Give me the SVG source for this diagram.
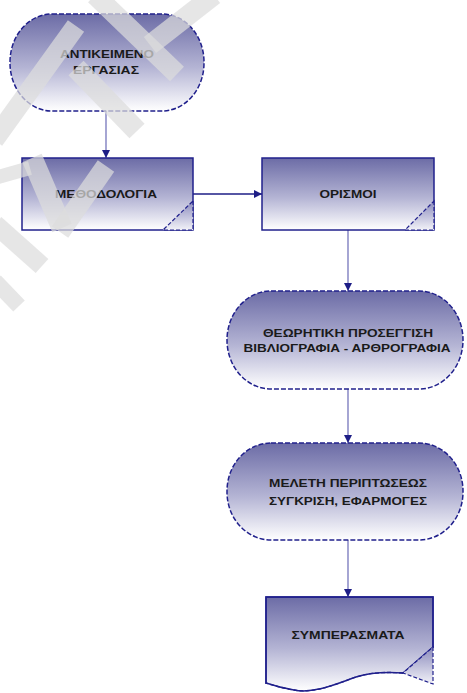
<svg xmlns="http://www.w3.org/2000/svg" width="467" height="693" viewBox="0 0 467 693">
  <defs>
    <linearGradient id="fillGrad" x1="0" y1="0" x2="0" y2="1">
      <stop offset="0" stop-color="#6c6ca6"/>
      <stop offset="0.55" stop-color="#b4b4d4"/>
      <stop offset="1" stop-color="#ffffff"/>
    </linearGradient>
    <linearGradient id="foldGrad" x1="0" y1="0" x2="0" y2="1">
      <stop offset="0" stop-color="#8a8abc"/>
      <stop offset="1" stop-color="#f2f2f8"/>
    </linearGradient>
    <marker id="arrow" viewBox="0 0 8 8" refX="8" refY="4" markerWidth="8" markerHeight="8" markerUnits="userSpaceOnUse" orient="auto">
      <path d="M0,0 L8,4 L0,8 Z" fill="#1e1e86"/>
    </marker>
  </defs>
  <style>
    .shape { fill: url(#fillGrad); stroke: #20208c; stroke-width: 1.5; }
    .dashed { stroke-dasharray: 5 2; }
    .fold { fill: url(#foldGrad); stroke: #20208c; stroke-width: 1.2; stroke-dasharray: 4 2; }
    .edge { fill: none; stroke: #6a6ab6; stroke-width: 1.2; marker-end: url(#arrow); }
    .edge-dark { fill: none; stroke: #1e1e86; stroke-width: 1.5; marker-end: url(#arrow); }
    .label { font-family: "Liberation Sans", Arial, sans-serif; font-weight: bold; font-size: 11.5px; fill: #1a1a1a; text-anchor: middle; }
    .wm { stroke: #dcdcdc; stroke-opacity: 0.72; fill: none; stroke-linecap: butt; }
  </style>

  <rect width="467" height="693" fill="#ffffff"/>

  <!-- connectors -->
  <g id="connectors">
    <line class="edge" x1="106" y1="111" x2="106" y2="158"/>
    <line class="edge-dark" x1="193" y1="194" x2="262" y2="194"/>
    <line class="edge" x1="348" y1="230" x2="348" y2="291"/>
    <line class="edge" x1="348" y1="389" x2="348" y2="443"/>
    <line class="edge" x1="348" y1="540" x2="348" y2="597"/>
  </g>

  <!-- start terminator -->
  <g id="node-objective">
    <rect class="shape dashed" x="10" y="14" width="194" height="97" rx="42" ry="48"/>
    <text class="label" x="107" y="58" textLength="94" lengthAdjust="spacingAndGlyphs">ΑΝΤΙΚΕΙΜΕΝΟ</text>
    <text class="label" x="106" y="74" textLength="66" lengthAdjust="spacingAndGlyphs">ΕΡΓΑΣΙΑΣ</text>
  </g>

  <!-- process boxes with folded corner -->
  <g id="node-methodology">
    <rect class="shape" x="22" y="158" width="171" height="72"/>
    <path class="fold" d="M193,201 L193,230 L163,230 Z"/>
    <text class="label" x="106" y="198" textLength="102" lengthAdjust="spacingAndGlyphs">ΜΕΘΟΔΟΛΟΓΙΑ</text>
  </g>

  <g id="node-definitions">
    <rect class="shape" x="262" y="158" width="172" height="72"/>
    <path class="fold" d="M434,201 L434,230 L405,230 Z"/>
    <text class="label" x="348" y="198" textLength="57" lengthAdjust="spacingAndGlyphs">ΟΡΙΣΜΟΙ</text>
  </g>

  <!-- theory terminator -->
  <g id="node-theory">
    <rect class="shape dashed" x="227" y="291" width="236" height="98" rx="44" ry="49"/>
    <text class="label" x="348" y="337" textLength="170" lengthAdjust="spacingAndGlyphs">ΘΕΩΡΗΤΙΚΗ ΠΡΟΣΕΓΓΙΣΗ</text>
    <text class="label" x="347" y="352" textLength="207" lengthAdjust="spacingAndGlyphs">ΒΙΒΛΙΟΓΡΑΦΙΑ - ΑΡΘΡΟΓΡΑΦΙΑ</text>
  </g>

  <!-- case study terminator -->
  <g id="node-casestudy">
    <rect class="shape dashed" x="227" y="443" width="236" height="97" rx="44" ry="48"/>
    <text class="label" x="348" y="487" textLength="158" lengthAdjust="spacingAndGlyphs">ΜΕΛΕΤΗ ΠΕΡΙΠΤΩΣΕΩΣ</text>
    <text class="label" x="348" y="505" textLength="158" lengthAdjust="spacingAndGlyphs">ΣΥΓΚΡΙΣΗ, ΕΦΑΡΜΟΓΕΣ</text>
  </g>

  <!-- conclusions document with curled corner -->
  <g id="node-conclusions">
    <path class="shape" stroke="none" d="M266,597 H433 V647 L403,673 C388,672 372,672 356,677 C336,684 314,694 294,690 C282,688 272,685 266,683 Z"/>
    <path fill="none" stroke="#20208c" stroke-width="1.5" d="M266,684 V597 H433 V648"/>
    <path fill="none" stroke="#20208c" stroke-width="1.3" stroke-dasharray="4 2" d="M403,673 C388,672 372,672 356,677 C336,684 314,694 294,690 C282,688 272,685 266,683"/>
    <path class="fold" d="M433,647 L433,684 L403,673 Z"/>
    <text class="label" x="348" y="639" textLength="113" lengthAdjust="spacingAndGlyphs">ΣΥΜΠΕΡΑΣΜΑΤΑ</text>
  </g>

  <!-- faint diagonal watermark bands -->
  <g id="watermark" class="wm">
    <line x1="95" y1="-5" x2="177" y2="74" stroke-width="20"/>
    <line x1="214" y1="-5" x2="150" y2="45" stroke-width="20"/>
    <line x1="76" y1="26" x2="-6" y2="140" stroke-width="20"/>
    <line x1="76" y1="68" x2="137" y2="131" stroke-width="21"/>
    <line x1="-5" y1="178" x2="30" y2="168" stroke-width="14"/>
    <line x1="32" y1="158" x2="62" y2="228" stroke-width="21"/>
    <line x1="106" y1="166" x2="60" y2="232" stroke-width="20"/>
    <line x1="-5" y1="224" x2="42" y2="266" stroke-width="19"/>
    <line x1="-5" y1="281" x2="19" y2="306" stroke-width="16"/>
  </g>
</svg>
